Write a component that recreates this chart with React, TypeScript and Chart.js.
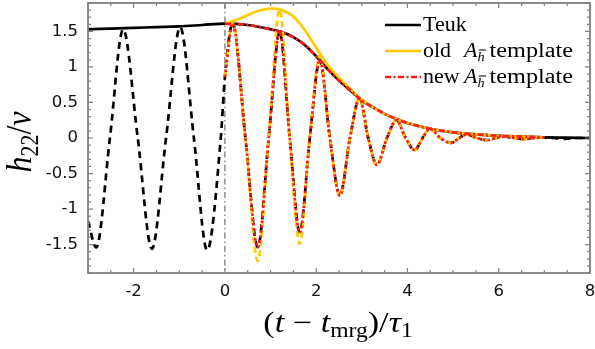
import React, { useEffect, useRef } from "react";
import { Chart, registerables } from "chart.js";
Chart.register(...registerables);

// ---------- data ----------
const xTickValues = [-2, 0, 2, 4, 6, 8];
const xTickLabels = ["-2", "0", "2", "4", "6", "8"];
const yTickValues = [-1.5, -1, -0.5, 0, 0.5, 1, 1.5];
const yTickLabels = ["-1.5", "-1", "-0.5", "0", "0.5", "1", "1.5"];

// Teukolsky amplitude |h22|/nu (solid black)
const teukEnvT = [-3, -2.5, -2, -1.5, -1, -0.5, 0, 0.5, 1, 1.25, 1.5, 1.75, 2, 2.25, 2.5, 2.75, 3, 3.25, 3.5, 3.75, 4, 4.5, 5, 5.5, 6, 6.5, 7, 7.5, 8];
const teukEnvH = [1.53, 1.54, 1.55, 1.56, 1.57, 1.59, 1.61, 1.59, 1.53, 1.49, 1.42, 1.31, 1.15, 0.97, 0.81, 0.67, 0.53, 0.43, 0.34, 0.27, 0.21, 0.13, 0.08, 0.05, 0.03, 0.02, 0.01, 0.005, 0];

// Teukolsky real part (dashed black)
const teukReT = [-3, -2.82, -2.52, -2.23, -1.91, -1.6, -1.29, -0.98, -0.68, -0.39, -0.09, 0, 0.17, 0.45, 0.72, 0.96, 1.2, 1.42, 1.64, 1.86, 2.08, 2.3, 2.52, 2.74, 2.95, 3.14, 3.33, 3.55, 3.76, 3.96, 4.16, 4.33, 4.49, 4.72, 4.96, 5.13, 5.3, 5.52, 5.75, 5.94, 6.13, 6.35, 6.56, 6.76, 6.96, 7.2, 7.45, 7.7, 8];
const teukReH = [-1.17, -1.54, 0, 1.53, 0, -1.56, 0, 1.56, 0, -1.58, 0, 0.86, 1.61, 0, -1.54, 0, 1.5, 0, -1.33, 0, 1.1, 0, -0.81, 0, 0.56, 0, -0.38, 0, 0.25, 0, -0.17, 0, 0.13, 0, -0.07, 0, 0.05, 0, -0.03, 0, 0.02, 0, -0.015, 0, 0.008, 0, -0.012, 0, 0];

// old A_hbar template amplitude (yellow solid)
const oldEnvT = [0, 0.25, 0.5, 0.75, 1, 1.25, 1.5, 1.75, 2, 2.25, 2.5, 2.75, 3, 3.25, 3.5, 3.75, 4, 4.5, 5, 5.5, 6, 6.5, 7];
const oldEnvH = [1.61, 1.66, 1.73, 1.79, 1.82, 1.8, 1.71, 1.52, 1.27, 1.03, 0.85, 0.69, 0.54, 0.43, 0.34, 0.27, 0.21, 0.13, 0.08, 0.05, 0.03, 0.02, 0.01];

// old template real part (yellow dashed)
const oldReT = [0, 0.17, 0.45, 0.72, 0.96, 1.2, 1.42, 1.64, 1.86, 2.08, 2.3, 2.52, 2.74, 2.95, 3.14, 3.33, 3.55, 3.76, 3.96, 4.16, 4.33, 4.49, 4.72, 4.96, 5.13, 5.3, 5.52, 5.75, 5.94, 6.13, 6.35, 6.56, 6.76, 6.96];
const oldReH = [0.86, 1.62, 0, -1.73, 0, 1.81, 0, -1.49, 0, 1.16, 0, -0.83, 0, 0.56, 0, -0.38, 0, 0.25, 0, -0.17, 0, 0.13, 0, -0.07, 0, 0.05, 0, -0.03, 0, 0.02, 0, -0.015, 0, 0.005];

// new A_hbar template amplitude (red dash-dot)
const newEnvT = [0, 0.5, 1, 1.25, 1.5, 1.75, 2, 2.25, 2.5, 2.75, 3, 3.25, 3.5, 3.75, 4, 4.5, 5, 5.5, 6, 6.5, 7];
const newEnvH = [1.61, 1.59, 1.53, 1.49, 1.42, 1.31, 1.15, 0.97, 0.81, 0.67, 0.53, 0.43, 0.34, 0.27, 0.21, 0.13, 0.08, 0.05, 0.03, 0.02, 0.01];

// new template real part (red dotted)
const newReT = [0, 0.17, 0.45, 0.72, 0.96, 1.2, 1.42, 1.64, 1.86, 2.08, 2.3, 2.52, 2.74, 2.95, 3.14, 3.33, 3.55, 3.76, 3.96, 4.16, 4.33, 4.49, 4.72, 4.96, 5.13, 5.3, 5.52, 5.75, 5.94, 6.13, 6.35, 6.56, 6.76, 6.96];
const newReH = [0.86, 1.61, 0, -1.54, 0, 1.5, 0, -1.33, 0, 1.1, 0, -0.81, 0, 0.56, 0, -0.38, 0, 0.25, 0, -0.17, 0, 0.13, 0, -0.07, 0, 0.05, 0, -0.03, 0, 0.02, 0, -0.015, 0, 0.005];

const legendLabels = ["Teuk", "old", "new"];

// ---------- helpers ----------
const pts = (t: number[], h: number[]) => t.map((v, i) => ({ x: v, y: h[i] }));

const BLACK = "#000000";
const YELLOW = "#ffcc00";
const RED = "#ff1a1a";
const FRAME = "#808080";
const SERIF = "'Liberation Serif', 'Times New Roman', serif";

type Part = { t: string; f: string; dy?: number };

function richWidth(ctx: CanvasRenderingContext2D, parts: Part[]) {
  let w = 0;
  for (const p of parts) {
    ctx.font = p.f;
    w += ctx.measureText(p.t).width;
  }
  return w;
}
function drawRich(ctx: CanvasRenderingContext2D, parts: Part[], x: number, y: number) {
  let cx = x;
  for (const p of parts) {
    ctx.font = p.f;
    ctx.fillText(p.t, cx, y + (p.dy || 0));
    cx += ctx.measureText(p.t).width;
  }
  return cx;
}
// draw text stretched horizontally by sx, starting at x (baseline y); returns end x
function drawStretched(ctx: CanvasRenderingContext2D, parts: Part[], x: number, y: number, sx: number) {
  ctx.save();
  ctx.translate(x, y);
  ctx.scale(sx, 1);
  const end = drawRich(ctx, parts, 0, 0);
  ctx.restore();
  return x + end * sx;
}

const decorPlugin = {
  id: "decor",
  beforeDatasetsDraw(chart: any) {
    const { ctx, chartArea: a, scales } = chart;
    const px = scales.x.getPixelForValue(0);
    ctx.save();
    ctx.strokeStyle = "#7a7a7a";
    ctx.lineWidth = 1.3;
    ctx.setLineDash([6, 3, 1.5, 3]);
    ctx.beginPath();
    ctx.moveTo(px, a.top);
    ctx.lineTo(px, a.bottom);
    ctx.stroke();
    ctx.restore();
  },
  afterDraw(chart: any) {
    const { ctx, chartArea: a, scales } = chart;
    const xs = scales.x;
    const ys = scales.y;
    ctx.save();
    // frame
    ctx.strokeStyle = FRAME;
    ctx.lineWidth = 1.8;
    ctx.setLineDash([]);
    ctx.strokeRect(a.left, a.top, a.right - a.left, a.bottom - a.top);
    // x ticks (top and bottom, inward)
    ctx.lineWidth = 1.2;
    ctx.beginPath();
    for (let i = -6; i <= 16; i++) {
      const v = i / 2;
      const p = xs.getPixelForValue(v);
      const len = i % 4 === 0 ? 5 : 3;
      ctx.moveTo(p, a.bottom);
      ctx.lineTo(p, a.bottom - len);
      ctx.moveTo(p, a.top);
      ctx.lineTo(p, a.top + len);
    }
    // y ticks (left and right)
    for (let i = -19; i <= 19; i++) {
      const v = i / 10;
      const p = ys.getPixelForValue(v);
      const len = i % 5 === 0 ? 5 : 3;
      ctx.moveTo(a.left, p);
      ctx.lineTo(a.left + len, p);
      ctx.moveTo(a.right, p);
      ctx.lineTo(a.right - len, p);
    }
    ctx.stroke();

    // axis titles
    ctx.fillStyle = "#000";
    ctx.textBaseline = "alphabetic";
    ctx.textAlign = "left";
    const R = (s: number) => `${s}px ${SERIF}`;
    const I = (s: number) => `italic ${s}px ${SERIF}`;
    const xParts: Part[] = [
      { t: "(", f: R(29) },
      { t: "t", f: I(29) },
      { t: " \u2212 ", f: R(29) },
      { t: "t", f: I(29) },
      { t: "mrg", f: R(20), dy: 5 },
      { t: ")", f: R(29) },
      { t: "/", f: R(29) },
      { t: "\u03C4", f: I(29) },
      { t: "1", f: R(20), dy: 5 },
    ];
    const xsx = 1.18;
    const xw = richWidth(ctx, xParts) * xsx;
    drawStretched(ctx, xParts, 338 - xw / 2, 332, xsx);

    const yParts: Part[] = [
      { t: "h", f: I(32) },
      { t: "22", f: R(22), dy: 6 },
      { t: "/", f: R(32) },
      { t: "\u03BD", f: I(32) },
    ];
    const yw = richWidth(ctx, yParts);
    ctx.save();
    ctx.translate(31, 142);
    ctx.rotate(-Math.PI / 2);
    ctx.scale(1, 1.12);
    drawRich(ctx, yParts, -yw / 2, 0);
    ctx.restore();

    // legend
    const rows = [
      { color: BLACK, dash: [] as number[], y: 25 },
      { color: YELLOW, dash: [] as number[], y: 51 },
      { color: RED, dash: [6, 2.5, 2, 2.5], y: 77 },
    ];
    const lx1 = 385, lx2 = 421, tx = 423;
    rows.forEach((r) => {
      ctx.strokeStyle = r.color;
      ctx.lineWidth = 2.6;
      ctx.setLineDash(r.dash);
      ctx.beginPath();
      ctx.moveTo(lx1, r.y);
      ctx.lineTo(lx2, r.y);
      ctx.stroke();
    });
    ctx.setLineDash([]);
    ctx.fillStyle = "#000";
    const F = R(20);
    const sx = 1.1;
    const ax = 464;
    const templ: Part[] = [{ t: "template", f: F }];
    const drawA = (base: number) => {
      const cx = drawStretched(ctx, [{ t: "A", f: I(20) }], ax, base, sx);
      ctx.font = I(13);
      const hw = ctx.measureText("h").width * sx;
      drawStretched(ctx, [{ t: "h", f: I(13) }], cx, base + 4, sx);
      ctx.fillRect(cx + 1.5, base - 7.5, hw, 1);
      return cx + hw;
    };
    const drawTemplate = (x0: number, base: number) => {
      const tw0 = richWidth(ctx, templ);
      const tsx = (573 - x0) / tw0;
      drawStretched(ctx, templ, x0, base, tsx);
    };
    drawStretched(ctx, [{ t: legendLabels[0], f: F }], tx, rows[0].y + 6, sx);
    drawStretched(ctx, [{ t: legendLabels[1], f: F }], tx, rows[1].y + 6, sx);
    const e2 = drawA(rows[1].y + 6);
    drawTemplate(e2 + 5, rows[1].y + 6);
    drawStretched(ctx, [{ t: legendLabels[2], f: F }], tx, rows[2].y + 6, sx);
    const e3 = drawA(rows[2].y + 6);
    drawTemplate(e3 + 5, rows[2].y + 6);
    ctx.restore();
  },
};

const zeroPad = (s: any) => {
  s.paddingLeft = 0;
  s.paddingRight = 0;
  s.paddingTop = 0;
  s.paddingBottom = 0;
};

export default function App() {
  const ref = useRef<HTMLCanvasElement | null>(null);
  useEffect(() => {
    if (!ref.current) return;
    const base = { pointRadius: 0, borderWidth: 2.7, fill: false, showLine: true, cubicInterpolationMode: "monotone" as const };
    const chart = new Chart(ref.current, {
      type: "scatter",
      data: {
        datasets: [
          { ...base, label: "new re", data: pts(newReT, newReH), borderColor: RED, borderDash: [2.5, 2.5] },
          { ...base, label: "new A template", data: pts(newEnvT, newEnvH), borderColor: RED, borderDash: [6, 2.5, 2, 2.5] },
          { ...base, label: "old re", data: pts(oldReT, oldReH), borderColor: YELLOW, borderDash: [6, 4] },
          { ...base, label: "old A template", data: pts(oldEnvT, oldEnvH), borderColor: YELLOW },
          { ...base, label: "Teuk re", data: pts(teukReT, teukReH), borderColor: BLACK, borderDash: [7, 5] },
          { ...base, label: "Teuk", data: pts(teukEnvT, teukEnvH), borderColor: BLACK },
        ],
      },
      options: {
        animation: false,
        responsive: false,
        maintainAspectRatio: false,
        layout: { padding: { top: 3, right: 5, left: 0, bottom: 0 } },
        plugins: { legend: { display: false }, tooltip: { enabled: false } },
        scales: {
          x: {
            type: "linear",
            min: -3,
            max: 8,
            grid: { display: false, drawTicks: false },
            border: { display: false },
            afterBuildTicks: (s: any) => {
              s.ticks = xTickValues.map((v) => ({ value: v }));
            },
            afterFit: (s: any) => {
              s.height = 76;
              zeroPad(s);
            },
            ticks: {
              padding: 9,
              autoSkip: false,
              maxRotation: 0,
              color: "#111",
              font: { family: "'DejaVu Sans', sans-serif", size: 16.5 },
              callback: (v: any) => {
                const i = xTickValues.indexOf(Number(v));
                return i >= 0 ? xTickLabels[i] : "";
              },
            },
          },
          y: {
            type: "linear",
            min: -1.9,
            max: 1.9,
            grid: { display: false, drawTicks: false },
            border: { display: false },
            afterBuildTicks: (s: any) => {
              s.ticks = yTickValues.map((v) => ({ value: v }));
            },
            afterFit: (s: any) => {
              s.width = 88;
              zeroPad(s);
            },
            ticks: {
              padding: 10,
              autoSkip: false,
              color: "#111",
              font: { family: "'DejaVu Sans', sans-serif", size: 16.5 },
              callback: (v: any) => {
                const i = yTickValues.indexOf(Number(v));
                return i >= 0 ? yTickLabels[i] : "";
              },
            },
          },
        },
      },
      plugins: [decorPlugin],
    });
    return () => chart.destroy();
  }, []);
  return (
    <div style={{ position: "fixed", left: 0, top: 0, width: 595, height: 349, background: "#fff" }}>
      <canvas ref={ref} width={595} height={349} style={{ display: "block", width: 595, height: 349 }} />
    </div>
  );
}
